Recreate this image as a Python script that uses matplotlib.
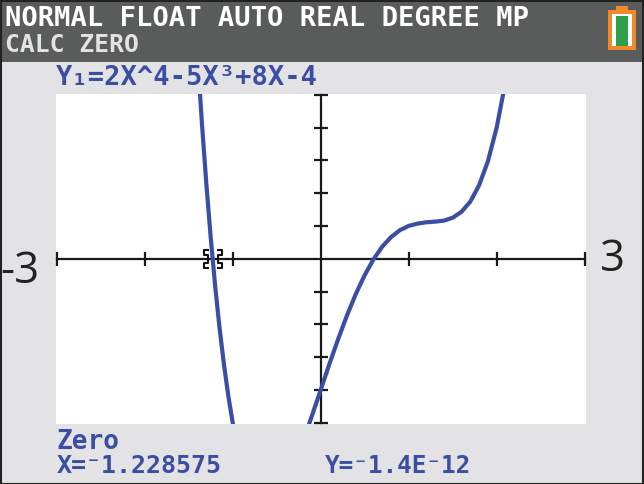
import matplotlib
matplotlib.use("Agg")
import matplotlib.pyplot as plt
from matplotlib.patches import Rectangle
from matplotlib.path import Path

W, H = 644, 484
BLUE = "#3A4FA3"
GREY = "#E3E2E5"
DARK = "#5A5B5B"
ORANGE = "#F18A2B"
GREEN = "#2CA04A"

# values
left_x = [-1.40, -1.35, -1.30, -1.25, -1.20, -1.15, -1.10, -1.05, -1.00, -0.95]
left_y = [6.2, 4.14, 2.30, 0.65, -0.81, -2.10, -3.21, -4.18, -5.0, -5.68]
right_x = [-0.20, -0.15, -0.10, 0.0, 0.1, 0.2, 0.3, 0.4, 0.5, 0.6, 0.7, 0.8, 0.9,
           1.0, 1.1, 1.2, 1.3, 1.4, 1.5, 1.6, 1.7, 1.8, 1.9, 2.0, 2.1]
right_y = [-5.56, -5.18, -4.79, -4.0, -3.2, -2.44, -1.72, -1.07, -0.5, -0.02, 0.37, 0.66, 0.87,
           1.0, 1.07, 1.11, 1.13, 1.16, 1.25, 1.43, 1.74, 2.24, 2.97, 4.0, 5.39]
x_ticks = [-3, -2, -1, 1, 2, 3]
y_ticks = [-5, -4, -3, -2, -1, 1, 2, 3, 4, 5]
zero_x = -1.228575
status_line = "NORMAL FLOAT AUTO REAL DEGREE MP"
mode_line = "CALC ZERO"
func_line = "Y\u2081=2X^4-5X\u00b3+8X-4"
zero_label = "Zero"
x_readout = "X=\u207b1.228575"
y_readout = "Y=\u207b1.4E\u207b12"

fig = plt.figure(figsize=(W / 100, H / 100), dpi=100, facecolor=GREY)

# screen chrome, in pixel coordinates
bg = fig.add_axes([0, 0, 1, 1])
bg.set_xlim(0, W)
bg.set_ylim(H, 0)
bg.axis("off")
bg.add_patch(Rectangle((2, 2), W - 4, 60, color=DARK, lw=0))
bg.add_patch(Rectangle((608, 10), 28, 40, color=ORANGE, lw=0))
bg.add_patch(Rectangle((616, 6), 12, 4, color=ORANGE, lw=0))
bg.add_patch(Rectangle((612, 14), 20, 32, color="white", lw=0))
bg.add_patch(Rectangle((616, 16), 12, 30, color=GREEN, lw=0))
bg.add_patch(Rectangle((0.5, 0.5), W - 1, H - 1, fill=False, ec="#222222", lw=1.5))

mono = dict(family="DejaVu Sans Mono", fontweight="bold", va="baseline", ha="left")
bg.text(5, 26, status_line, color="white", fontsize=19.5, **mono)
bg.text(5, 52, mode_line, color=GREY, fontsize=17.7, **mono)
bg.text(56, 85, func_line, color=BLUE, fontsize=19.5, **mono)
bg.text(57, 449, zero_label, color=BLUE, fontsize=18.8, **mono)
bg.text(57, 473, x_readout, color=BLUE, fontsize=18, **mono)
bg.text(325, 473, y_readout, color=BLUE, fontsize=17.6, **mono)

# graph window
left, right, top, bottom = 56, 586, 94, 424
ax = fig.add_axes([left / W, 1 - bottom / H, (right - left) / W, (bottom - top) / H])
ax.set_xlim((left - 320.7) / 88, (right - 320.7) / 88)
ax.set_ylim((258.7 - bottom) / 32.8, (258.7 - top) / 32.8)
ax.set_facecolor("white")

ax.plot(left_x, left_y, color=BLUE, lw=3, solid_capstyle="butt", zorder=3)
ax.plot(right_x, right_y, color=BLUE, lw=3, solid_capstyle="butt", zorder=3)

for name in ["top", "right"]:
    ax.spines[name].set_visible(False)
ax.spines["left"].set_position("zero")
ax.spines["bottom"].set_position("zero")
ax.spines["left"].set_bounds(-5, 5)
ax.spines["bottom"].set_bounds(-3, 3)
for name in ["left", "bottom"]:
    ax.spines[name].set_linewidth(1.6)
    ax.spines[name].set_color("#1a1a1a")
    ax.spines[name].set_zorder(2)
ax.set_xticks(x_ticks)
ax.set_yticks(y_ticks)
ax.tick_params(direction="inout", length=9.5, width=1.6, color="#1a1a1a",
               labelbottom=False, labelleft=False)

# trace cursor on the root: four corners with notched sides
verts = []
codes = []
for sx in (-1, 1):
    verts += [(sx * 0.45, 1), (sx, 1), (sx, 0.45), (sx * 0.6, 0.45),
              (sx * 0.6, -0.45), (sx, -0.45), (sx, -1), (sx * 0.45, -1)]
    codes += [Path.MOVETO] + [Path.LINETO] * 7
cursor = Path(verts, codes)
ax.plot([zero_x], [0], marker=cursor, ms=12.5, mfc="none", mec="#111111", mew=1.5, zorder=4, clip_on=False)

# window bounds shown either side
bg.text(39.5, 283, "-3", family="Open Sans", fontsize=31.5, color="#222222", va="baseline", ha="right")
bg.text(600, 271, "3", family="Open Sans", fontsize=31.5, color="#222222", va="baseline", ha="left")

fig.savefig("out.png", dpi=100, facecolor=GREY)
